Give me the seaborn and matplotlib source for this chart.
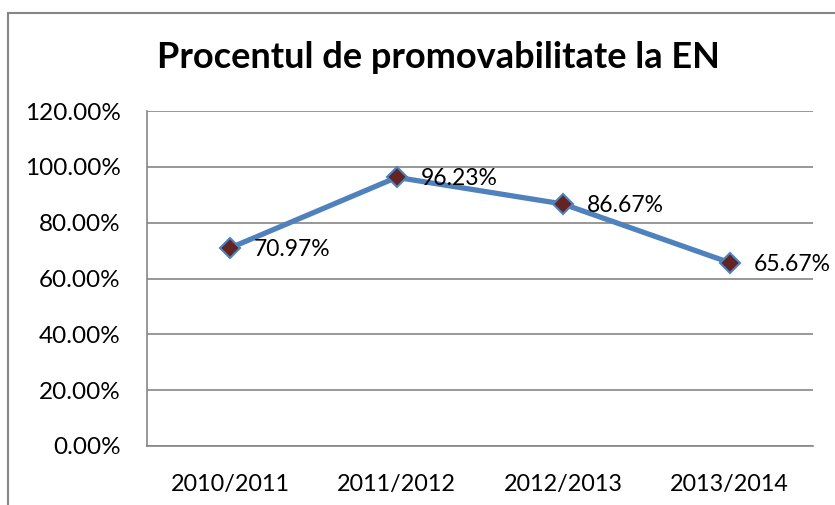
import matplotlib
matplotlib.use("Agg")
import matplotlib.pyplot as plt
import seaborn as sns
import pandas as pd
from matplotlib.patches import Rectangle
from matplotlib.ticker import FuncFormatter

years = ["2010/2011", "2011/2012", "2012/2013", "2013/2014"]
values = [70.97, 96.23, 86.67, 65.67]
title = "Procentul de promovabilitate la EN"
yticks = [0, 20, 40, 60, 80, 100, 120]

sns.set_theme(style="white")
plt.rcParams['font.family'] = ['Lato', 'DejaVu Sans']

df = pd.DataFrame({"year": years, "value": values})

fig = plt.figure(figsize=(8.35, 5.05), dpi=100)
ax = fig.add_axes([147/835, 1-446/505, (813-147)/835, (446-111)/505])

sns.lineplot(data=df, x="year", y="value", ax=ax, sort=False,
             color="#4F81BD", linewidth=3.8, marker="D", markersize=10.5,
             markerfacecolor="#632523", markeredgecolor="#4F81BD",
             markeredgewidth=1.5, zorder=3)

for i, v in enumerate(values):
    ax.annotate(f"{v:.2f}%", (i, v), xytext=(17, -1), textcoords="offset points",
                ha="left", va="center", fontsize=16.5, color="black", zorder=4)

ax.set_xlim(-0.5, 3.5)
ax.set_ylim(0, 120)
ax.set_yticks(yticks)
ax.yaxis.set_major_formatter(FuncFormatter(lambda v, p: f"{v:.2f}%"))
ax.grid(axis="y", color="#868686", linewidth=1.2)
ax.grid(axis="x", visible=False)
ax.set_axisbelow(True)
for s in ["top", "right"]:
    ax.spines[s].set_visible(False)
for s in ["left", "bottom"]:
    ax.spines[s].set_color("#868686")
    ax.spines[s].set_linewidth(1.2)
ax.tick_params(axis="both", length=0, colors="black")
ax.tick_params(axis="y", pad=19, labelsize=17.5)
ax.tick_params(axis="x", pad=20, labelsize=16.8)
ax.set_xlabel("")
ax.set_ylabel("")

fig.text(0.525, 1-58/505, title, ha="center", va="center",
         fontsize=26, fontweight="bold", color="black")

fig.patches.append(Rectangle((8/835, -0.1), 1.2, 1-13/505+0.1,
                             transform=fig.transFigure, fill=False,
                             edgecolor="#868686", linewidth=1.5))

fig.savefig("out.png", dpi=100)
